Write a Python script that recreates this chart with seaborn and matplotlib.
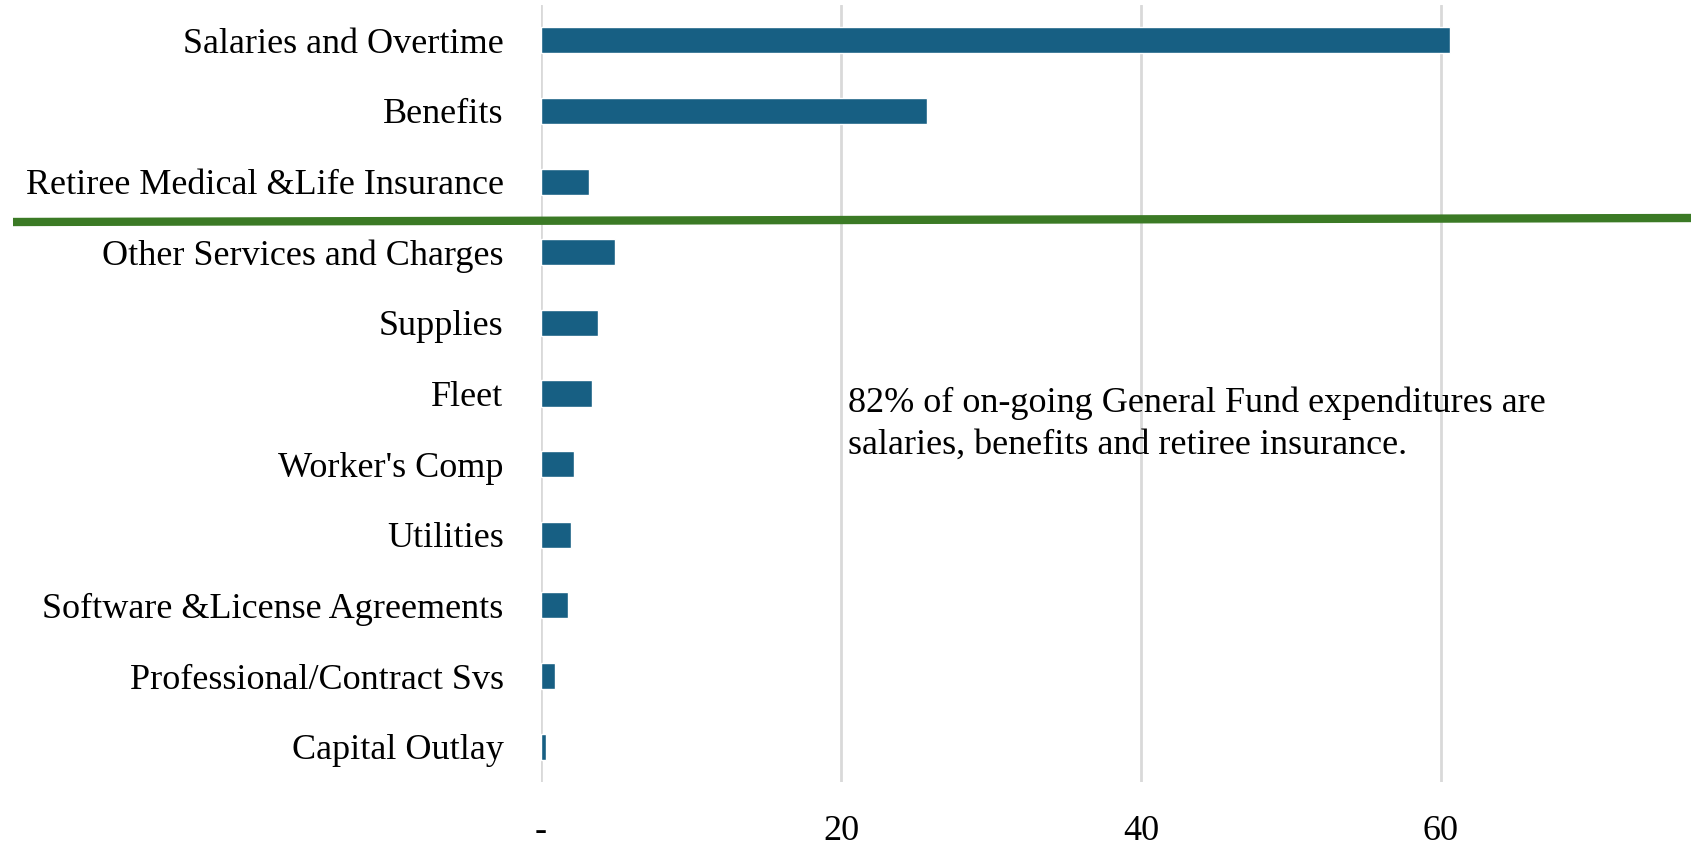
import matplotlib
matplotlib.use("Agg")
import matplotlib.pyplot as plt
from matplotlib.lines import Line2D
import seaborn as sns
import pandas as pd

categories = [
    "Salaries and Overtime",
    "Benefits",
    "Retiree Medical &Life Insurance",
    "Other Services and Charges",
    "Supplies",
    "Fleet",
    "Worker's Comp",
    "Utilities",
    "Software &License Agreements",
    "Professional/Contract Svs",
    "Capital Outlay",
]
values = [60.6, 25.7, 3.2, 4.9, 3.8, 3.4, 2.2, 2.0, 1.8, 0.9, 0.35]
x_ticks = [0, 20, 40, 60]
x_tick_labels = ["-", "20", "40", "60"]
note = "82% of on-going General Fund expenditures are\nsalaries, benefits and retiree insurance."

sns.set_theme(style="white")
plt.rcParams["font.family"] = ["Liberation Serif", "DejaVu Serif"]

W, H = 1691, 846
fig = plt.figure(figsize=(W / 100, H / 100), dpi=100)
ax = fig.add_axes([541 / W, (H - 782) / H, 1 - 541 / W, (782 - 5) / H])

df = pd.DataFrame({"category": categories, "value": values})
sns.barplot(data=df, x="value", y="category", orient="h", color="#175f83",
            saturation=1, width=0.37, ax=ax, zorder=3)

ax.set_xlim(0, (W - 541) / 15.0)
ax.set_ylim(len(categories) - 0.5, -0.5)
ax.set_xticks(x_ticks)
ax.set_xticklabels(x_tick_labels)
ax.xaxis.grid(True, color="#d9d9d9", linewidth=2)
ax.yaxis.grid(False)
ax.set_axisbelow(True)
ax.set_xlabel("")
ax.set_ylabel("")
for s in ax.spines.values():
    s.set_visible(False)
ax.tick_params(axis="x", length=0, pad=24, labelsize=26, colors="black")
ax.tick_params(axis="y", length=0, pad=27, labelsize=26, colors="black")

ax.text(848 / W, (H - 424) / H, note, transform=fig.transFigure,
        fontsize=26, ha="left", va="center", linespacing=1.32, color="black")

# separator between personnel costs and the rest
fig.add_artist(Line2D([13 / W, 1.0], [(H - 222) / H, (H - 218) / H],
                      transform=fig.transFigure, color="#3b7a25",
                      linewidth=6, solid_capstyle="butt", zorder=10))

fig.savefig("out.png", dpi=100)
